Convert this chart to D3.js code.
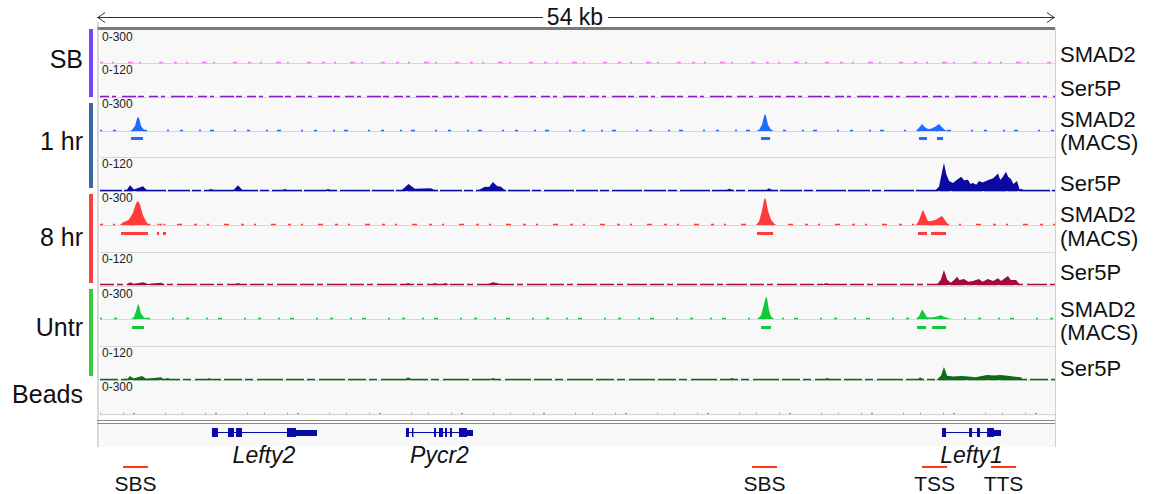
<!DOCTYPE html>
<html>
<head>
<meta charset="utf-8">
<script src="https://d3js.org/d3.v7.min.js"></script>
<style>
  body { margin: 0; background: #fff; }
  text { font-family: Arial, "Liberation Sans", sans-serif; }
</style>
</head>
<body>
<div id="chart"></div>
<script>
// ---- data (positions in kb across the 54 kb window) ----

// SMAD2 ChIP signal, 0-300 scale
var smad1hr = [[1.70,0],[1.81,8],[1.98,45],[2.10,112],[2.15,124],[2.21,112],[2.32,45],[2.49,12],[2.70,0],
  [37.10,0],[37.27,12],[37.43,55],[37.55,132],[37.60,150],[37.66,132],[37.77,55],[37.94,12],[38.12,0],
  [46.14,0],[46.31,28],[46.48,62],[46.65,32],[46.82,18],[46.99,20],[47.27,42],[47.44,62],[47.61,32],[47.78,8],[47.95,0]];
var smad8hr = [[1.13,0],[1.30,25],[1.47,32],[1.64,48],[1.86,105],[2.04,192],[2.15,212],[2.26,182],[2.43,85],[2.60,32],[2.71,10],[2.90,0],
  [3.22,0],[3.30,15],[3.40,0],[3.56,0],[3.63,15],[3.73,0],
  [37.10,0],[37.27,32],[37.43,125],[37.55,222],[37.60,238],[37.66,218],[37.77,125],[37.94,48],[38.10,15],[38.23,0],
  [46.14,0],[46.31,42],[46.48,118],[46.54,132],[46.65,92],[46.82,32],[46.99,36],[47.27,46],[47.50,70],[47.61,80],[47.72,58],[47.90,15],[47.98,0]];
var smadUntr = [[1.76,0],[1.92,18],[2.04,75],[2.15,141],[2.21,122],[2.32,52],[2.49,14],[2.70,0],
  [37.15,0],[37.38,32],[37.55,145],[37.66,212],[37.72,192],[37.83,82],[37.94,26],[38.12,0],
  [46.14,0],[46.31,26],[46.48,88],[46.60,62],[46.76,16],[46.99,14],[47.27,22],[47.55,35],[47.72,22],[47.95,6],[48.20,0]];
var smadSB = [];
var beads = [];

// MACS peak calls [start, end]
var macs1hr = [[1.75,2.43],[37.38,37.89],[46.31,46.76],[47.33,47.67]];
var macs8hr = [[1.19,2.71],[3.22,3.34],[3.56,3.73],[37.15,38.06],[46.25,46.76],[46.99,47.84]];
var macsUntr = [[1.81,2.49],[37.38,37.94],[46.20,46.71],[47.05,47.84]];

// Pol II Ser5P signal, 0-120 scale
var ser5p1hr = [[1.47,0],[1.70,20],[1.92,5],[2.43,17],[2.71,0],
  [6.00,0],[6.28,7],[6.50,0],[7.50,0],[7.80,20],[8.10,0],[10.20,0],[10.46,7],[10.70,0],[12.60,0],[12.89,7],[13.20,0],
  [17.00,0],[17.45,25],[17.80,8],[18.72,10],[19.00,0],
  [21.30,0],[21.77,15],[22.00,14],[22.22,32],[22.45,18],[22.67,15],[22.95,0],
  [35.30,0],[35.60,8],[35.90,0],[37.60,0],[37.83,10],[38.10,0],
  [47.20,0],[47.44,15],[47.72,100],[47.85,60],[48.01,35],[48.23,28],[48.46,40],[48.69,50],[48.86,38],[49.08,40],[49.22,25],
  [49.36,28],[49.55,22],[49.70,35],[49.90,30],[50.27,40],[50.50,45],[50.78,62],[50.90,40],[51.00,45],[51.23,68],[51.35,50],
  [51.51,42],[51.65,25],[51.85,35],[52.00,5],[52.08,8],[52.30,0]];
var ser5p8hr = [[1.47,0],[1.70,10],[1.90,4],[2.43,10],[2.71,4],[3.45,8],[3.70,0],
  [7.50,0],[7.80,7],[8.10,0],[17.20,0],[17.42,7],[17.70,0],[18.70,0],[18.94,7],[19.20,0],[19.30,0],[19.51,7],[19.80,0],
  [21.80,0],[22.22,10],[22.50,6],[22.90,0],[35.30,0],[35.51,5],[35.80,0],[40.80,0],[41.05,7],[41.30,0],
  [47.30,0],[47.55,20],[47.72,55],[47.90,20],[48.10,8],[48.30,18],[48.46,30],[48.60,18],[48.86,22],[49.10,12],[49.36,15],
  [49.70,22],[49.90,12],[50.21,22],[50.50,15],[50.78,25],[50.95,15],[51.10,22],[51.34,33],[51.50,18],[51.80,18],[51.97,5],[52.20,0]];
var ser5pUntr = [[1.50,0],[1.70,14],[1.90,5],[2.38,14],[2.60,4],[3.45,10],[3.60,3],[3.85,7],[4.00,0],
  [6.00,0],[6.16,7],[6.35,0],[17.20,0],[17.42,10],[17.70,0],[21.90,0],[22.22,7],[22.50,0],
  [35.50,0],[35.74,7],[36.00,0],[40.90,0],[41.11,7],[41.40,0],[46.20,0],[46.37,10],[46.60,0],
  [47.30,0],[47.55,15],[47.72,46],[47.90,15],[48.23,12],[48.69,14],[49.08,12],[49.50,10],[50.16,18],[50.55,16],
  [50.90,18],[51.34,15],[51.63,12],[52.08,10],[52.19,0]];
var ser5pSB = [];

// gene models: span, coding blocks, UTR blocks
var geneNames = ["Lefty2", "Pycr2", "Lefty1"];
var geneSpans = [[6.33,12.21],[17.30,21.09],[47.61,50.95]];
var geneExons = [
  [[6.33,6.67],[7.24,7.58],[7.69,8.03],[10.57,11.08]],
  [[17.30,17.47],[17.64,17.72],[18.89,19.00],[19.17,19.40],[19.51,19.62],[19.79,19.90],[20.30,20.75]],
  [[47.61,47.84],[49.14,49.31],[49.59,49.76],[50.16,50.55]]
];
var geneUtrs = [[[11.08,12.27]],[[20.75,21.09]],[[50.55,50.95]]];

// annotated sites under the gene track
var siteNames = ["SBS", "SBS", "TSS", "TTS"];
var siteSpans = [[1.30,2.71],[36.87,38.28],[46.48,47.90],[50.38,51.80]];

// ---- drawing ----
var W = 1156, H = 494;
var svg = d3.select("#chart").append("svg").attr("width", W).attr("height", H);

var x = d3.scaleLinear().domain([0, 54]).range([100, 1055]);

// signal tracks: data, scale max, baseline y, colour, background-read dash pattern
var tracks = [
  {data: smadSB,    max: 300, top: 30,  base: 63,  color: "#f07ef0", noise: "3,9,2,14,5,6,2,18,4,11", label: "0-300"},
  {data: ser5pSB,   max: 120, top: 63,  base: 97,  color: "#8b1bc9", noise: "9,3,4,6,14,2,6,5", label: "0-120"},
  {data: smad1hr,   max: 300, top: 97,  base: 131, color: "#1e6cff", noise: "2,11,3,16,2,9,4,20", label: "0-300"},
  {data: ser5p1hr,  max: 120, top: 157, base: 191, color: "#0a0aa0", noise: "22,2,9,3,30,2", label: "0-120"},
  {data: smad8hr,   max: 300, top: 191, base: 225, color: "#ff3b3b", noise: "3,10,2,15,5,12", label: "0-300"},
  {data: ser5p8hr,  max: 120, top: 252, base: 285, color: "#a3093a", noise: "14,3,6,4,20,3", label: "0-120"},
  {data: smadUntr,  max: 300, top: 287, base: 319, color: "#12c83c", noise: "2,12,3,17,2,10,4,22", label: "0-300"},
  {data: ser5pUntr, max: 120, top: 346, base: 380, color: "#0b6b16", noise: "18,3,8,4,26,3", label: "0-120"},
  {data: beads,     max: 300, top: 380, base: 414, color: "#98a898", noise: "1,22,1,9,2,30,1,16", label: "0-300"}
];
var macsRows = [
  {data: macs1hr,  y: 138, color: "#1e6cff"},
  {data: macs8hr,  y: 233, color: "#ff3b3b"},
  {data: macsUntr, y: 327, color: "#12c83c"}
];

// panel backgrounds
svg.append("rect").attr("x", 100).attr("y", 30).attr("width", 955).attr("height", 386).attr("fill", "#f8f8f8");
svg.append("rect").attr("x", 100).attr("y", 424).attr("width", 955).attr("height", 23).attr("fill", "#f8f8f8");

// track separators
var seps = [63, 97, 131, 157, 191, 225, 252, 286, 319, 346, 380, 414];
svg.selectAll("line.sep").data(seps).enter().append("line")
  .attr("class", "sep")
  .attr("x1", 100).attr("x2", 1055)
  .attr("y1", function(d) { return d + 0.5; }).attr("y2", function(d) { return d + 0.5; })
  .attr("stroke", "#d6d6d6").attr("stroke-width", 1);

// signal areas
tracks.forEach(function(t) {
  var y = d3.scaleLinear().domain([0, t.max]).range([t.base, t.top]);
  // low background reads along the baseline
  svg.append("line")
    .attr("x1", x(0)).attr("x2", x(54))
    .attr("y1", t.base - 0.5).attr("y2", t.base - 0.5)
    .attr("stroke", t.color).attr("stroke-width", 1.6)
    .attr("stroke-dasharray", t.noise);
  if (t.data.length) {
    var area = d3.area()
      .x(function(d) { return x(d[0]); })
      .y0(y(0))
      .y1(function(d) { return y(d[1]); });
    svg.append("path").datum(t.data)
      .attr("d", area)
      .attr("fill", t.color);
  }
  svg.append("text")
    .attr("x", 102).attr("y", t.top + 11)
    .attr("font-size", 12).attr("fill", "#222")
    .text(t.label);
});

// MACS peak bars
macsRows.forEach(function(m) {
  svg.selectAll(null).data(m.data).enter().append("rect")
    .attr("x", function(d) { return x(d[0]); })
    .attr("width", function(d) { return x(d[1]) - x(d[0]); })
    .attr("y", m.y - 1).attr("height", 3)
    .attr("fill", m.color);
});

// frame
svg.append("rect").attr("x", 97).attr("y", 27).attr("width", 958).attr("height", 3).attr("fill", "#7a7a7a");
svg.append("line").attr("x1", 98).attr("x2", 98).attr("y1", 22).attr("y2", 447).attr("stroke", "#b0b0b0");
svg.append("line").attr("x1", 1055.5).attr("x2", 1055.5).attr("y1", 28).attr("y2", 447).attr("stroke", "#cfcfcf");
svg.append("line").attr("x1", 97).attr("x2", 1055).attr("y1", 420.5).attr("y2", 420.5).attr("stroke", "#8c8c8c");
svg.append("line").attr("x1", 97).attr("x2", 1055).attr("y1", 423.5).attr("y2", 423.5).attr("stroke", "#8c8c8c");

// scale bar
svg.append("line").attr("x1", 97).attr("x2", 1055).attr("y1", 17.5).attr("y2", 17.5).attr("stroke", "#333");
svg.append("path").attr("d", "M105,12.5 L98,17.5 L105,22.5").attr("fill", "none").attr("stroke", "#333");
svg.append("path").attr("d", "M1047,12.5 L1054,17.5 L1047,22.5").attr("fill", "none").attr("stroke", "#333");
svg.append("rect").attr("x", 543).attr("y", 8).attr("width", 65).attr("height", 18).attr("fill", "#fff");
svg.append("text").attr("x", 575).attr("y", 25).attr("text-anchor", "middle")
  .attr("font-size", 23).attr("fill", "#111").text("54 kb");

// gene models
var gy = 432;
geneSpans.forEach(function(s, i) {
  svg.append("line").attr("x1", x(s[0])).attr("x2", x(s[1]))
    .attr("y1", gy + 0.5).attr("y2", gy + 0.5).attr("stroke", "#0a0aa8");
  svg.selectAll(null).data(geneExons[i]).enter().append("rect")
    .attr("x", function(d) { return x(d[0]); })
    .attr("width", function(d) { return Math.max(1.5, x(d[1]) - x(d[0])); })
    .attr("y", gy - 4).attr("height", 9).attr("fill", "#0a0aa8");
  svg.selectAll(null).data(geneUtrs[i]).enter().append("rect")
    .attr("x", function(d) { return x(d[0]); })
    .attr("width", function(d) { return x(d[1]) - x(d[0]); })
    .attr("y", gy - 2).attr("height", 6).attr("fill", "#0a0aa8");
  svg.append("text")
    .attr("x", x((s[0] + s[1]) / 2)).attr("y", 463)
    .attr("text-anchor", "middle").attr("font-size", 23).attr("font-style", "italic")
    .attr("fill", "#111").text(geneNames[i]);
});

// sites
siteSpans.forEach(function(s, i) {
  svg.append("rect").attr("x", x(s[0])).attr("width", x(s[1]) - x(s[0]))
    .attr("y", 466).attr("height", 2).attr("fill", "#ff3a12");
  svg.append("text")
    .attr("x", x((s[0] + s[1]) / 2)).attr("y", 491)
    .attr("text-anchor", "middle").attr("font-size", 21).attr("fill", "#111")
    .text(siteNames[i]);
});

// condition labels and colour bars
var groupNames = ["SB", "1 hr", "8 hr", "Untr", "Beads"];
var groupSpans = [[29, 97], [103, 188], [194, 283], [289, 376]];
var groupLabelY = [68, 150, 246, 336, 403];
var groupColors = ["#7a44ff", "#3a6aa0", "#ff4040", "#3bcc3b"];
groupNames.forEach(function(g, i) {
  var s = groupSpans[i];
  if (s) {
    svg.append("rect").attr("x", 89).attr("y", s[0]).attr("width", 4).attr("height", s[1] - s[0])
      .attr("fill", groupColors[i]);
  }
  svg.append("text")
    .attr("x", 83).attr("y", groupLabelY[i])
    .attr("text-anchor", "end").attr("font-size", 25).attr("fill", "#111")
    .text(g);
});

// right-hand track labels
var rightLabels = [["SMAD2", 62], ["Ser5P", 96], ["SMAD2", 127], ["(MACS)", 150], ["Ser5P", 191],
  ["SMAD2", 222], ["(MACS)", 246], ["Ser5P", 280], ["SMAD2", 317], ["(MACS)", 340], ["Ser5P", 376]];
svg.selectAll("text.rl").data(rightLabels).enter().append("text")
  .attr("class", "rl")
  .attr("x", 1060).attr("y", function(d) { return d[1]; })
  .attr("font-size", 22).attr("fill", "#111")
  .text(function(d) { return d[0]; });
</script>
</body>
</html>
